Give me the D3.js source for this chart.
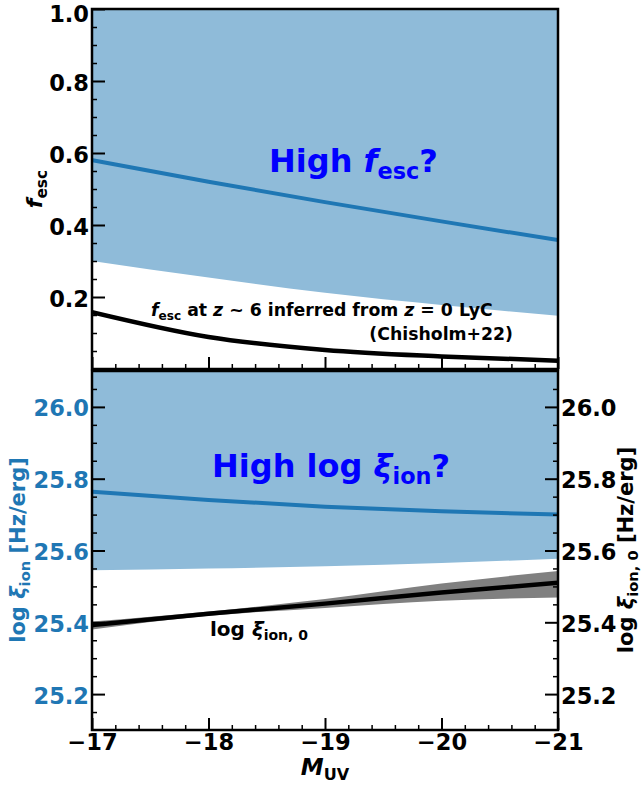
<!DOCTYPE html>
<html>
<head>
<meta charset="utf-8">
<script src="https://cdn.jsdelivr.net/npm/d3@7"></script>
<style>
  body { margin: 0; background: #fff; }
  svg text { font-family: "DejaVu Sans", sans-serif; font-weight: bold; }
</style>
</head>
<body>
<div id="chart"></div>
<script>
const mags = [-17, -18, -19, -20, -21];

// top panel: escape fraction
const fescHighLower = [0.300, 0.254, 0.212, 0.178, 0.148];
const fescHighUpper = [1.0, 1.0, 1.0, 1.0, 1.0];
const fescHighMid = [0.580, 0.520, 0.4635, 0.410, 0.358];
const fescChisholm = [0.158, 0.089, 0.053, 0.035, 0.023];

// bottom panel: ionizing photon production efficiency
const xiHighLower = [25.545, 25.550, 25.556, 25.565, 25.577];
const xiHighUpper = [26.1, 26.1, 26.1, 26.1, 26.1];
const xiHighMid = [25.764, 25.741, 25.722, 25.709, 25.700];
const xi0 = [25.392, 25.424, 25.452, 25.483, 25.510];
const xi0Upper = [25.402, 25.430, 25.465, 25.508, 25.543];
const xi0Lower = [25.380, 25.418, 25.440, 25.460, 25.469];

// ticks
const xMajor = [-17, -18, -19, -20, -21];
const fescMajor = [0.2, 0.4, 0.6, 0.8, 1.0];
const xiMajor = [25.2, 25.4, 25.6, 25.8, 26.0];

const W = 642, H = 785;
const left = 92, right = 558;
const blue = '#1f77b4';
const bandFill = '#8fbbd9';
const tickFont = '22.5px';

const svg = d3.select('#chart').append('svg')
  .attr('width', W)
  .attr('height', H);

const x = d3.scaleLinear().domain([-17, -21]).range([left, right]);
const yTop = d3.scaleLinear().domain([0, 1]).range([369, 9]);
const yBot = d3.scaleLinear().domain([25.1, 26.1]).range([730, 371]);

const range = (a, b, s) => d3.range(Math.round((b - a) / s) + 1).map(i => +(a + i * s).toFixed(3));
const notIn = (arr) => v => !arr.some(m => Math.abs(m - v) < 1e-6);
const xMinor = range(-21, -17, 0.2).filter(notIn(xMajor));
const fescMinor = range(0.05, 1.0, 0.05).filter(notIn(fescMajor));
const xiMinor = range(25.15, 26.05, 0.05).filter(notIn(xiMajor));

const rows = mags.map((m, i) => ({ m, i }));

const panel = (id, y) => {
  svg.append('clipPath').attr('id', id)
    .append('rect')
    .attr('x', left).attr('y', y.range()[1])
    .attr('width', right - left).attr('height', y.range()[0] - y.range()[1]);
  return svg.append('g').attr('clip-path', `url(#${id})`);
};

const band = (g, y, lo, hi, fill) => {
  g.append('path')
    .datum(rows)
    .attr('fill', fill)
    .attr('d', d3.area()
      .x(d => x(d.m))
      .y0(d => y(lo[d.i]))
      .y1(d => y(hi[d.i]))
      .curve(d3.curveMonotoneX));
};

const line = (g, y, vals, color, w) => {
  g.append('path')
    .datum(rows)
    .attr('fill', 'none')
    .attr('stroke', color)
    .attr('stroke-width', w)
    .attr('d', d3.line()
      .x(d => x(d.m))
      .y(d => y(vals[d.i]))
      .curve(d3.curveMonotoneX));
};

// top panel
const gTop = panel('clipTop', yTop);
band(gTop, yTop, fescHighLower, fescHighUpper, bandFill);
line(gTop, yTop, fescHighMid, blue, 4);
line(gTop, yTop, fescChisholm, '#000', 4.5);

// bottom panel
const gBot = panel('clipBot', yBot);
band(gBot, yBot, xiHighLower, xiHighUpper, bandFill);
line(gBot, yBot, xiHighMid, blue, 4);
band(gBot, yBot, xi0Lower, xi0Upper, '#808080');
line(gBot, yBot, xi0, '#000', 4.5);

// axes helpers
const styleAxis = (g, labelColor, dy) => {
  g.select('.domain').remove();
  g.selectAll('line').attr('stroke', '#000').attr('stroke-width', 2);
  g.selectAll('text')
    .attr('fill', labelColor)
    .style('font-size', tickFont)
    .style('font-family', '"DejaVu Sans", sans-serif')
    .style('font-weight', 'bold');
  if (dy) g.selectAll('text').attr('dy', dy);
};

const minorAxis = (axis, vals, tr) => {
  const g = svg.append('g').attr('transform', tr)
    .call(axis.tickValues(vals).tickSizeInner(-5).tickSizeOuter(0).tickFormat(''));
  g.select('.domain').remove();
  g.selectAll('line').attr('stroke', '#000').attr('stroke-width', 1.5);
};

// top panel: left y axis
svg.append('g').attr('transform', `translate(${left},0)`)
  .call(d3.axisLeft(yTop).tickValues(fescMajor).tickSizeInner(-13).tickSizeOuter(0).tickPadding(3).tickFormat(d3.format('.1f')))
  .call(g => styleAxis(g, '#000', '0.4em'))
  // keep the top label inside the page
  .call(g => g.selectAll('text').filter(d => d === 1.0).attr('dy', '0.55em'));
minorAxis(d3.axisLeft(yTop), fescMinor, `translate(${left},0)`);

// top panel: bottom x ticks without labels
svg.append('g').attr('transform', `translate(0,${yTop.range()[0]})`)
  .call(d3.axisBottom(x).tickValues(xMajor).tickSizeInner(-12).tickSizeOuter(0).tickFormat(''))
  .call(g => styleAxis(g, '#000'));
minorAxis(d3.axisBottom(x), xMinor, `translate(0,${yTop.range()[0]})`);

// bottom panel: left y axis (blue labels)
svg.append('g').attr('transform', `translate(${left},0)`)
  .call(d3.axisLeft(yBot).tickValues(xiMajor).tickSizeInner(-13).tickSizeOuter(0).tickPadding(3).tickFormat(d3.format('.1f')))
  .call(g => styleAxis(g, blue, '0.4em'));
minorAxis(d3.axisLeft(yBot), xiMinor, `translate(${left},0)`);

// bottom panel: right y axis
svg.append('g').attr('transform', `translate(${right},0)`)
  .call(d3.axisRight(yBot).tickValues(xiMajor).tickSizeInner(-13).tickSizeOuter(0).tickPadding(3).tickFormat(d3.format('.1f')))
  .call(g => styleAxis(g, '#000', '0.4em'));
minorAxis(d3.axisRight(yBot), xiMinor, `translate(${right},0)`);

// bottom panel: x axis
svg.append('g').attr('transform', `translate(0,${yBot.range()[0]})`)
  .call(d3.axisBottom(x).tickValues(xMajor).tickSizeInner(-12).tickSizeOuter(0).tickPadding(4)
    .tickFormat(d => d3.format('d')(d).replace('-', '\u2212')))
  .call(g => styleAxis(g, '#000'));
minorAxis(d3.axisBottom(x), xMinor, `translate(0,${yBot.range()[0]})`);

// frames
[yTop, yBot].forEach(y => {
  svg.append('rect')
    .attr('x', left).attr('y', y.range()[1])
    .attr('width', right - left).attr('height', y.range()[0] - y.range()[1])
    .attr('fill', 'none')
    .attr('stroke', '#000')
    .attr('stroke-width', 2.5);
});

// rich text: parts = [[text, style]], 'i' italic, 's' subscript
const rich = (sel, parts, subScale = 0.7) => {
  const fs = parseFloat(sel.style('font-size'));
  let wasSub = false;
  parts.forEach(([t, st]) => {
    const ts = sel.append('tspan').text(t);
    const isSub = st.includes('s');
    if (st.includes('i')) ts.style('font-style', 'italic');
    if (isSub) ts.style('font-size', `${fs * subScale}px`);
    if (isSub && !wasSub) ts.attr('dy', fs * 0.22);
    if (!isSub && wasSub) ts.attr('dy', -fs * 0.22);
    wasSub = isSub;
  });
  return sel;
};

// axis labels
svg.append('text')
  .attr('transform', 'translate(42,189) rotate(-90)')
  .attr('text-anchor', 'middle')
  .style('font-size', '22px')
  .call(s => rich(s, [['f', 'i'], ['esc', 's']]));

svg.append('text')
  .attr('transform', 'translate(25,550) rotate(-90)')
  .attr('text-anchor', 'middle')
  .attr('fill', blue)
  .style('font-size', '21px')
  .call(s => rich(s, [['log ', ''], ['ξ', 'i'], ['ion', 's'], [' [Hz/erg]', '']]));

svg.append('text')
  .attr('transform', 'translate(633,550) rotate(-90)')
  .attr('text-anchor', 'middle')
  .attr('fill', '#000')
  .style('font-size', '21px')
  .call(s => rich(s, [['log ', ''], ['ξ', 'i'], ['ion, 0', 's'], [' [Hz/erg]', '']]));

svg.append('text')
  .attr('x', 325).attr('y', 775)
  .attr('text-anchor', 'middle')
  .style('font-size', '23px')
  .call(s => rich(s, [['M', 'i'], ['UV', 's']]));

// annotations
svg.append('text')
  .attr('x', 269).attr('y', 172)
  .attr('fill', '#0000ff')
  .style('font-size', '32px')
  .call(s => rich(s, [['High ', ''], ['f', 'i'], ['esc', 's'], ['?', '']]));

svg.append('text')
  .attr('x', 212).attr('y', 477)
  .attr('fill', '#0000ff')
  .style('font-size', '32px')
  .call(s => rich(s, [['High log ', ''], ['ξ', 'i'], ['ion', 's'], ['?', '']]));

svg.append('text')
  .attr('x', 151).attr('y', 316)
  .attr('fill', '#000')
  .style('font-size', '17.3px')
  .call(s => rich(s, [['f', 'i'], ['esc', 's'], [' at ', ''], ['z', 'i'], [' ~ 6 inferred from ', ''], ['z', 'i'], [' = 0 LyC', '']]));

svg.append('text')
  .attr('x', 513).attr('y', 340)
  .attr('text-anchor', 'end')
  .attr('fill', '#000')
  .style('font-size', '17.3px')
  .text('(Chisholm+22)');

svg.append('text')
  .attr('x', 210).attr('y', 636)
  .attr('fill', '#000')
  .style('font-size', '20px')
  .call(s => rich(s, [['log ', ''], ['ξ', 'i'], ['ion, 0', 's']]));
</script>
</body>
</html>
